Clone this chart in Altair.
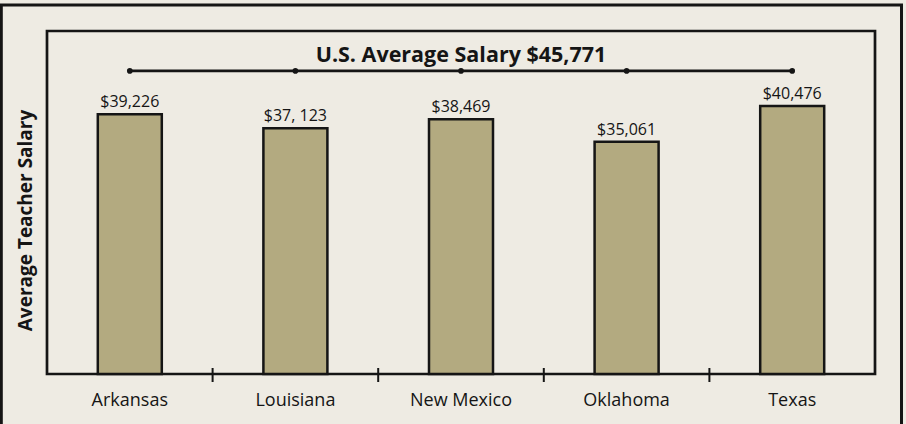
import altair as alt
import pandas as pd

states = ["Arkansas", "Louisiana", "New Mexico", "Oklahoma", "Texas"]
salaries = [39226, 37123, 38469, 35061, 40476]
salary_labels = ["$39,226", "$37, 123", "$38,469", "$35,061", "$40,476"]
us_average = 45771
us_label = "U.S. Average Salary $45,771"
axis_title = "Average Teacher Salary"

FONT = "Open Sans"
BG = "#EEEBE3"
BAR = "#B3AA80"
INK = "#151515"

df = pd.DataFrame({"state": states, "salary": salaries, "label": salary_labels})
avg_df = pd.DataFrame({"state": states, "avg": [us_average] * len(states)})
title_df = pd.DataFrame({"state": [states[2]], "avg": [us_average], "text": [us_label]})
tick_df = pd.DataFrame({"state": states[1:]})

W, H = 828, 343

x_scale = alt.Scale(domain=states, paddingInner=0, paddingOuter=0)
y_scale = alt.Scale(domain=[0, 51800], nice=False, zero=True)

x_enc = alt.X(
    "state:N",
    scale=x_scale,
    sort=states,
    axis=alt.Axis(
        title=None, ticks=False, domain=False, grid=False, labelAngle=0,
        labelFont=FONT, labelFontSize=18, labelColor=INK,
        labelPadding=31, labelBaseline="alphabetic",
    ),
)
y_enc = alt.Y(
    "salary:Q",
    scale=y_scale,
    axis=alt.Axis(
        title=axis_title, labels=False, ticks=False, domain=False, grid=False,
        titleFont=FONT, titleFontSize=19, titleFontWeight="bold", titleColor=INK,
        titleAngle=270, titleX=-22, titleY=189, titleAlign="center",
        titleBaseline="middle",
    ),
)

bars = alt.Chart(df).mark_bar(
    size=64, color=BAR, stroke=INK, strokeWidth=2.5
).encode(x=x_enc, y=y_enc)

values = alt.Chart(df).mark_text(
    font=FONT, fontSize=16, color=INK, baseline="alphabetic", dy=-7
).encode(x=alt.X("state:N", scale=x_scale, sort=states),
         y=alt.Y("salary:Q", scale=y_scale), text="label:N")

avg_line = alt.Chart(avg_df).mark_line(color=INK, strokeWidth=2.7).encode(
    x=alt.X("state:N", scale=x_scale, sort=states),
    y=alt.Y("avg:Q", scale=y_scale),
)
avg_pts = alt.Chart(avg_df).mark_point(filled=True, size=32, color=INK, opacity=1).encode(
    x=alt.X("state:N", scale=x_scale, sort=states),
    y=alt.Y("avg:Q", scale=y_scale),
)
avg_text = alt.Chart(title_df).mark_text(
    font=FONT, fontSize=21.5, fontWeight="bold", color=INK,
    baseline="alphabetic", dy=-9,
).encode(
    x=alt.X("state:N", scale=x_scale, sort=states),
    y=alt.Y("avg:Q", scale=y_scale),
    text="text:N",
)

ticks = alt.Chart(tick_df).mark_rule(color=INK, strokeWidth=2).encode(
    x=alt.X("state:N", scale=x_scale, sort=states, bandPosition=0),
    y=alt.value(H - 6),
    y2=alt.value(H + 8),
)

frame = alt.Chart(alt.Data(values=[{"k": 1}])).mark_rect(
    fillOpacity=0, stroke=INK, strokeWidth=3
).encode(
    x=alt.value(-45.7),
    x2=alt.value(854.5),
    y=alt.value(-26),
    y2=alt.value(H + 60),
)

chart = alt.layer(bars, values, avg_line, avg_pts, avg_text, ticks, frame).properties(
    width=W,
    height=H,
    padding={"left": 47, "top": 31, "right": 31, "bottom": 50},
    autosize=alt.AutoSizeParams(type="none"),
    background=BG,
).configure_view(
    fill=BG, stroke=INK, strokeWidth=2.7
)

chart.save("out.html", embed_options={"renderer": "svg", "actions": False})
